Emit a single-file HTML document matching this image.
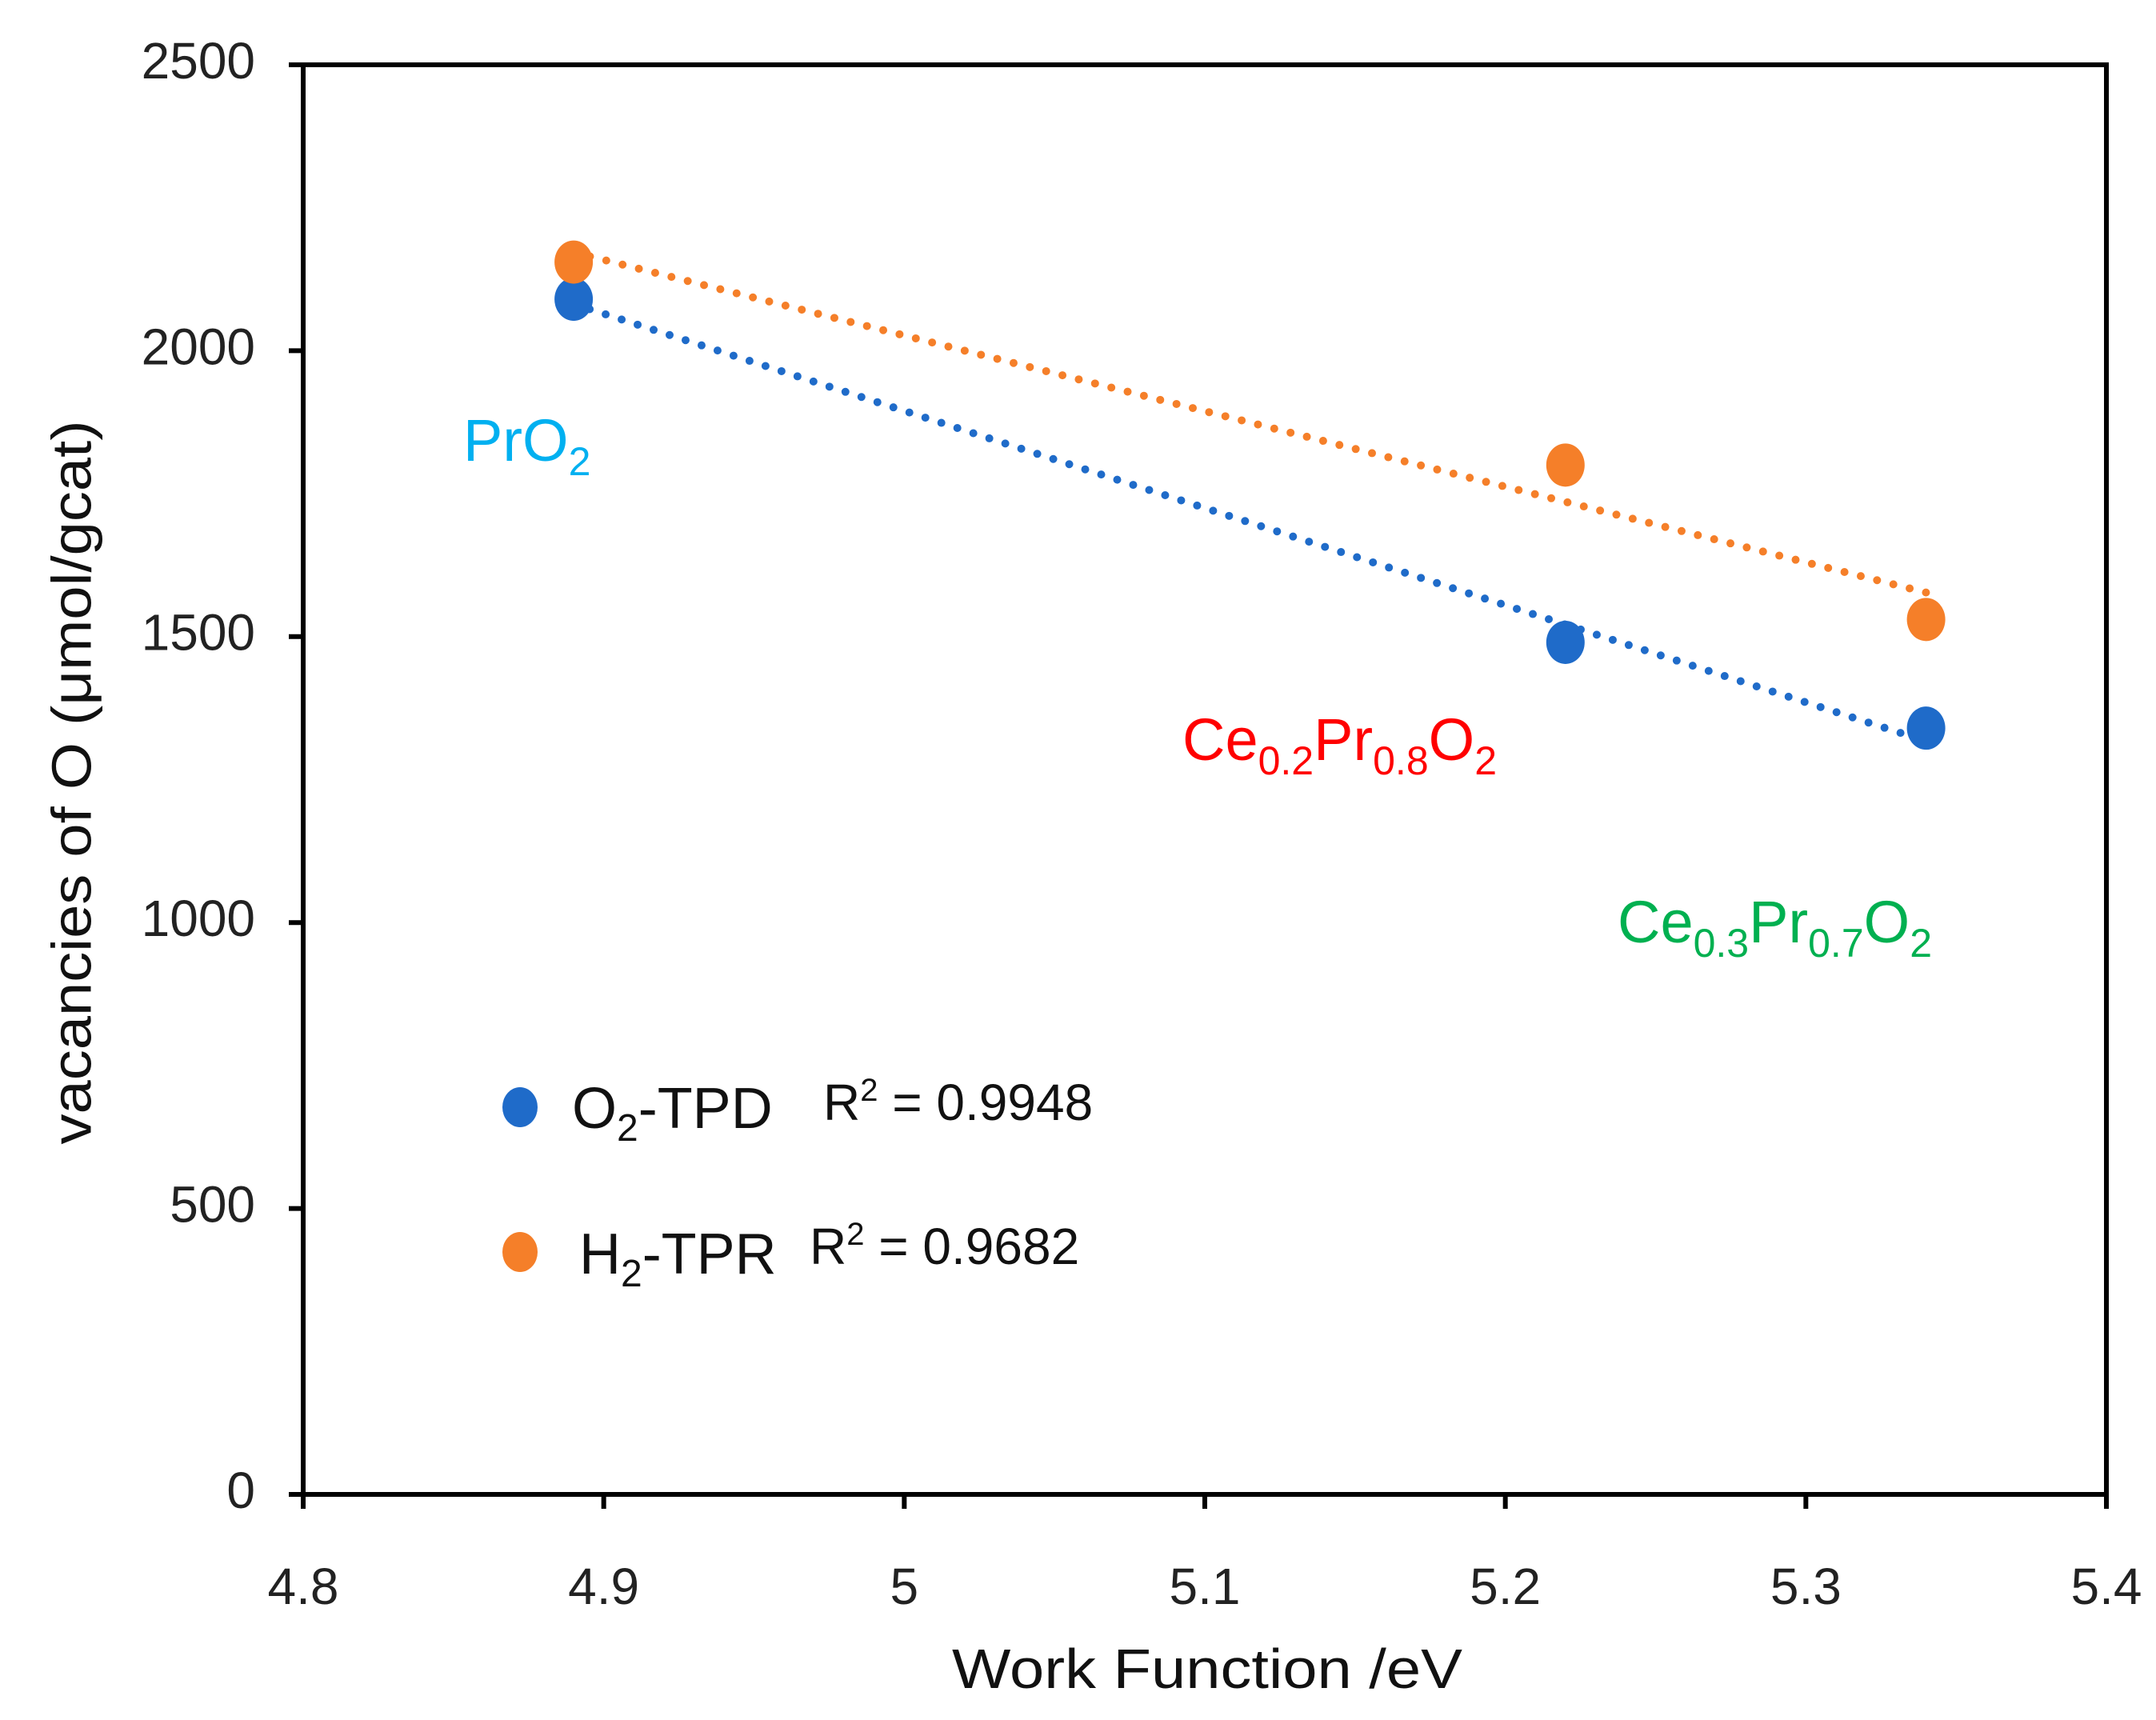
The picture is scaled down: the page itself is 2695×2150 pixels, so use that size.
<!DOCTYPE html>
<html><head><meta charset="utf-8"><style>
html,body{margin:0;padding:0;background:#fff;}
svg{display:block;font-family:"Liberation Sans",sans-serif;}
</style></head><body>
<svg id="chart" width="2695" height="2150" viewBox="0 0 2695 2150">
<g id="axes"></g>
<g id="trends"></g>
<g id="points"></g>
<text x="95" y="978" transform="rotate(-90 95 978)" text-anchor="middle" dominant-baseline="middle" font-size="70" fill="#111" textLength="905" lengthAdjust="spacingAndGlyphs">vacancies of O (μmol/gcat)</text>
<text x="1509" y="2110" text-anchor="middle" font-size="70" fill="#111" textLength="638" lengthAdjust="spacingAndGlyphs">Work Function /eV</text>
<text x="579" y="576" font-size="74" fill="#00B0F0">PrO<tspan font-size="50" dy="18">2</tspan></text>
<text x="1478" y="950" font-size="74" fill="#FF0000">Ce<tspan font-size="50" dy="18">0.2</tspan><tspan dy="-18">Pr</tspan><tspan font-size="50" dy="18">0.8</tspan><tspan dy="-18">O</tspan><tspan font-size="50" dy="18">2</tspan></text>
<text x="2022" y="1178" font-size="74" fill="#00B050">Ce<tspan font-size="50" dy="18">0.3</tspan><tspan dy="-18">Pr</tspan><tspan font-size="50" dy="18">0.7</tspan><tspan dy="-18">O</tspan><tspan font-size="50" dy="18">2</tspan></text>
<g>
<ellipse cx="650" cy="1384" rx="22" ry="25" fill="#1F6BC9"/>
<text x="715" y="1410" font-size="72" fill="#111">O<tspan font-size="48" dy="16">2</tspan><tspan dy="-16">-TPD</tspan></text>
<text x="1029" y="1400" font-size="64" fill="#111">R<tspan font-size="40" dy="-24">2</tspan><tspan dy="24"> = 0.9948</tspan></text>
<ellipse cx="650" cy="1565" rx="22" ry="25" fill="#F57F29"/>
<text x="724" y="1592" font-size="72" fill="#111">H<tspan font-size="48" dy="16">2</tspan><tspan dy="-16">-TPR</tspan></text>
<text x="1012" y="1580" font-size="64" fill="#111">R<tspan font-size="40" dy="-24">2</tspan><tspan dy="24"> = 0.9682</tspan></text>
</g>
</svg>
<script>
const xValues = [4.89, 5.22, 5.34];
const o2tpd = [2090, 1490, 1340];
const h2tpr = [2155, 1800, 1530];
const xTicks = [4.8, 4.9, 5.0, 5.1, 5.2, 5.3, 5.4];
const xTickLabels = ["4.8", "4.9", "5", "5.1", "5.2", "5.3", "5.4"];
const yTicks = [0, 500, 1000, 1500, 2000, 2500];
const yTickLabels = ["0", "500", "1000", "1500", "2000", "2500"];

const NS = "http://www.w3.org/2000/svg";
const L = 379, R = 2633, T = 81, B = 1868;
const xMin = 4.8, xMax = 5.4, yMin = 0, yMax = 2500;
const sx = v => L + (v - xMin) / (xMax - xMin) * (R - L);
const sy = v => B - (v - yMin) / (yMax - yMin) * (B - T);
function mk(tag, attrs, parent) {
  const e = document.createElementNS(NS, tag);
  for (const k in attrs) e.setAttribute(k, attrs[k]);
  parent.appendChild(e);
  return e;
}
const axes = document.getElementById('axes');
const frame = mk('rect', {x: L, y: T, width: R - L, height: B - T, fill: 'none', stroke: '#000', 'stroke-width': 6}, axes);


yTicks.forEach((v, i) => {
  const t = mk('line', {x1: L - 18, x2: L, y1: sy(v), y2: sy(v), stroke: '#000', 'stroke-width': 6}, axes);
  
  
  const lb = mk('text', {x: L - 60, y: sy(v), 'text-anchor': 'end', 'dominant-baseline': 'middle', 'font-size': 64, fill: '#222'}, axes);
  lb.textContent = yTickLabels[i];
  
  
});
xTicks.forEach((v, i) => {
  const t = mk('line', {x1: sx(v), x2: sx(v), y1: B, y2: B + 18, stroke: '#000', 'stroke-width': 6}, axes);
  
  
  const lb = mk('text', {x: sx(v), y: 2005, 'text-anchor': 'middle', 'font-size': 64, fill: '#222'}, axes);
  lb.textContent = xTickLabels[i];
  
  
});
function fit(xs, ys) {
  const n = xs.length;
  const mx = xs.reduce((a, b) => a + b) / n, my = ys.reduce((a, b) => a + b) / n;
  let num = 0, den = 0;
  for (let i = 0; i < n; i++) { num += (xs[i] - mx) * (ys[i] - my); den += (xs[i] - mx) ** 2; }
  const m = num / den;
  return x => my + m * (x - mx);
}
const trends = document.getElementById('trends');
const points = document.getElementById('points');
[[o2tpd, '#1F6BC9', 'o2-tpd'], [h2tpr, '#F57F29', 'h2-tpr']].forEach(([ys, col, nm]) => {
  const f = fit(xValues, ys);
  const x0 = Math.min(...xValues), x1 = Math.max(...xValues);
  const ln = mk('line', {x1: sx(x0), y1: sy(f(x0)), x2: sx(x1), y2: sy(f(x1)), stroke: col, 'stroke-width': 10, 'stroke-linecap': 'round', 'stroke-dasharray': '0 21'}, trends);
  
  
  xValues.forEach((x, i) => {
    const p = mk('ellipse', {cx: sx(x), cy: sy(ys[i]), rx: 24, ry: 27, fill: col}, points);
    
    
  });
});
</script>
</body></html>
